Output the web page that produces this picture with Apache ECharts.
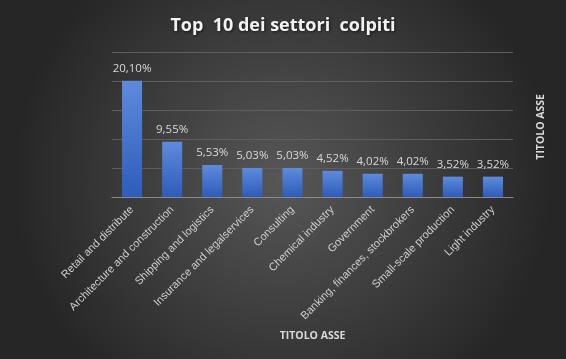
<!DOCTYPE html>
<html><head><meta charset="utf-8">
<script src="https://cdn.jsdelivr.net/npm/echarts@6/dist/echarts.min.js"></script>
<style>html,body{margin:0;padding:0;background:#333}#c{width:566px;height:359px}</style>
</head><body><div id="c"></div>
<script>
const categories = ["Retail and distribute","Architecture and construction","Shipping and logistics","Insurance and legalservices","Consulting","Chemical industry","Government","Banking, finances, stockbrokers","Small-scale production","Light industry"];
const values = [20.10, 9.55, 5.53, 5.03, 5.03, 4.52, 4.02, 4.02, 3.52, 3.52];
const titleText = "Top  10 dei settori  colpiti";
const axisTitle = "TITOLO ASSE";

const chart = echarts.init(document.getElementById('c'), null, {renderer:'canvas'});
chart.setOption({
  backgroundColor: {type:'radial', x:0.5, y:0.5, r:0.75, colorStops:[{offset:0,color:'#575757'},{offset:1,color:'#262626'}]},
  animation:false,
  title:{text:titleText, left:'center', top:12, textStyle:{color:'#f2f2f2', fontSize:18, fontWeight:'bold', fontFamily:'Open Sans', textShadowColor:'rgba(0,0,0,0.6)', textShadowBlur:3, textShadowOffsetX:1, textShadowOffsetY:1}},
  grid:{left:112, right:53, top:52.5, bottom:162},
  xAxis:{type:'category', data:categories,
    axisLine:{lineStyle:{color:'#8a8a8a', width:1}}, axisTick:{show:false},
    axisLabel:{rotate:45, interval:0, margin:11, color:'#cfcfcf', fontSize:11, fontFamily:'Liberation Sans'},
    name:axisTitle, nameLocation:'middle', nameGap:134,
    nameTextStyle:{color:'#d9d9d9', fontWeight:'bold', fontSize:10.5, fontFamily:'Open Sans'}
  },
  yAxis:{type:'value', min:0, max:25, interval:5,
    axisLabel:{show:false}, axisLine:{show:false}, axisTick:{show:false},
    splitLine:{lineStyle:{color:'#5e5e5e', width:1}}
  },
  graphic:[{type:'text', left:536, top:94, rotation:Math.PI/2,
    style:{text:axisTitle, fill:'#d9d9d9', font:'bold 10.5px "Open Sans"'}, z:10}],
  series:[{type:'bar', data:values, barWidth:'50%',
    itemStyle:{color:{type:'linear',x:0,y:0,x2:0,y2:1,colorStops:[{offset:0,color:'#5e8bdb'},{offset:1,color:'#2d5cba'}]}},
    label:{show:true, position:'top', distance:6, color:'#d9d9d9', fontSize:11.5, fontFamily:'Open Sans',
      formatter:p=>p.value.toFixed(2).replace('.',',')+'%'}
  }]
});
</script></body></html>
